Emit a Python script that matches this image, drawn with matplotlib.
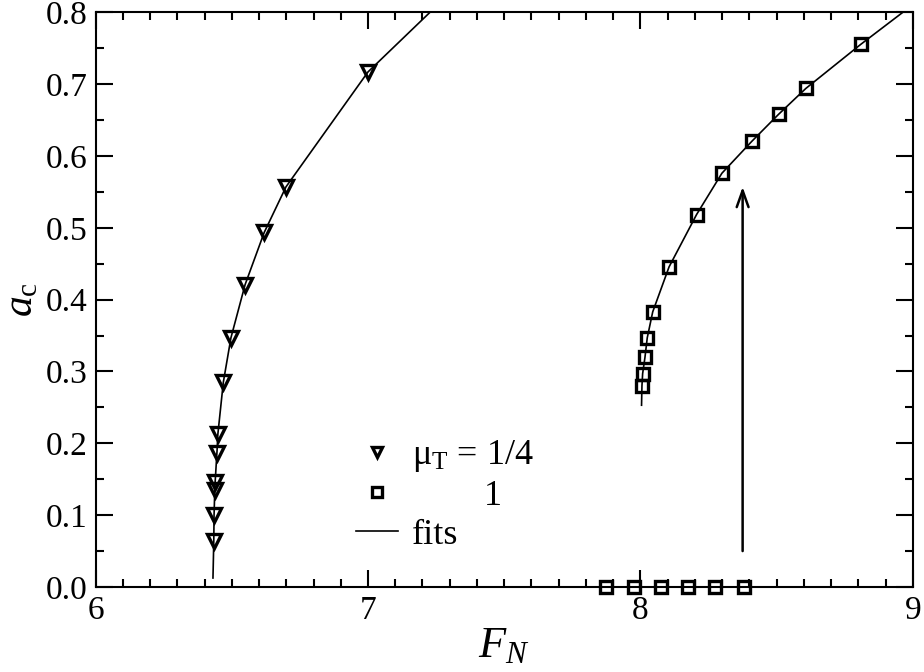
import matplotlib
matplotlib.use("Agg")
import matplotlib.pyplot as plt
from matplotlib.ticker import MultipleLocator

plt.rcParams.update(
    {
        "font.family": ["Liberation Serif", "DejaVu Serif"],
        "mathtext.fontset": "custom",
        "mathtext.rm": "Liberation Serif",
        "mathtext.it": "Liberation Serif:italic",
        "font.size": 17,
        "axes.linewidth": 1.5,
        "xtick.direction": "in",
        "ytick.direction": "in",
        "xtick.top": True,
        "ytick.right": True,
    }
)

# mu_T = 1/4 (triangles)
tri_F = [6.434, 6.434, 6.437, 6.4385, 6.445, 6.448, 6.469, 6.497, 6.549, 6.619, 6.699, 7.0]
tri_a = [0.064, 0.100, 0.135, 0.1465, 0.187, 0.2125, 0.285, 0.347, 0.421, 0.4935, 0.557, 0.717]

# mu_T = 1 (squares), upper branch
sq_F = [8.0055, 8.008, 8.0165, 8.025, 8.045, 8.105, 8.206, 8.299, 8.409, 8.507, 8.607, 8.809]
sq_a = [0.280, 0.297, 0.3195, 0.347, 0.383, 0.4456, 0.5185, 0.576, 0.6205, 0.658, 0.694, 0.7555]

# mu_T = 1 (squares), a_c = 0 branch
sq0_F = [7.873, 7.975, 8.077, 8.174, 8.275, 8.379]
sq0_a = [0.0, 0.0, 0.0, 0.0, 0.0, 0.0]

# fit curves
fit1_F = [6.431, 6.434, 6.435, 6.438, 6.446, 6.449, 6.469, 6.497, 6.549, 6.619, 6.699, 7.0, 7.2275]
fit1_a = [0.0125, 0.064, 0.100, 0.140, 0.190, 0.213, 0.285, 0.347, 0.421, 0.4935, 0.557, 0.717, 0.8]
fit2_F = [8.004, 8.0055, 8.008, 8.0165, 8.025, 8.045, 8.105, 8.206, 8.299, 8.409, 8.507, 8.607, 8.809, 8.963]
fit2_a = [0.253, 0.280, 0.297, 0.3195, 0.347, 0.383, 0.4456, 0.5185, 0.576, 0.6205, 0.658, 0.694, 0.7555, 0.8]

# arrow (F, a_start, a_end)
arrow_F = 8.375
arrow_a = [0.05, 0.557]

fig = plt.figure(figsize=(9.24, 6.72), dpi=100)
ax = fig.add_axes([0.1034, 0.1265, 0.8846, 0.8552])

ax.plot(fit1_F, fit1_a, color="black", lw=1.2)
ax.plot(fit2_F, fit2_a, color="black", lw=1.2)
ax.plot(tri_F, tri_a, ls="none", marker="v", ms=9.5, mfc="none", mec="black", mew=2.4)
ax.plot(sq_F, sq_a, ls="none", marker="s", ms=8, mfc="none", mec="black", mew=2.4)
ax.plot(sq0_F, sq0_a, ls="none", marker="s", ms=8, mfc="none", mec="black", mew=2.4, clip_on=False, zorder=5)

ax.annotate(
    "",
    xy=(arrow_F, arrow_a[1]),
    xytext=(arrow_F, arrow_a[0]),
    arrowprops=dict(arrowstyle="->,head_length=0.7,head_width=0.25", lw=1.8, color="black", shrinkA=0, shrinkB=0),
)

# legend built from proxy handles
h_tri, = ax.plot([], [], ls="none", marker="v", ms=7, mfc="none", mec="black", mew=2.4)
h_sq, = ax.plot([], [], ls="none", marker="s", ms=6.5, mfc="none", mec="black", mew=2.4)
h_fit, = ax.plot([], [], color="black", lw=1.2)
ax.legend(
    [h_tri, h_sq, h_fit],
    [r"μ$_{\mathrm{T}}$ = 1/4", "        1", "fits"],
    loc="upper left",
    bbox_to_anchor=(0.297, 0.29),
    frameon=False,
    fontsize=26,
    handlelength=1.15,
    handletextpad=0.4,
    labelspacing=0.15,
    borderpad=0,
)

ax.set_xlim(6, 9)
ax.set_ylim(0, 0.8)
ax.xaxis.set_major_locator(MultipleLocator(1))
ax.xaxis.set_minor_locator(MultipleLocator(0.1))
ax.yaxis.set_major_locator(MultipleLocator(0.1))
ax.yaxis.set_minor_locator(MultipleLocator(0.05))
ax.yaxis.set_major_formatter(plt.FuncFormatter(lambda v, p: f"{v:.1f}"))
ax.tick_params(which="major", length=12, width=1.5, labelsize=24, pad=6)
ax.tick_params(which="minor", length=6, width=1.5)

ax.set_xlabel(r"$F_N$", fontsize=32, labelpad=0)
ax.set_ylabel(r"$a_{\mathrm{c}}$", fontsize=30, labelpad=3)

fig.savefig("out.png", dpi=100)
